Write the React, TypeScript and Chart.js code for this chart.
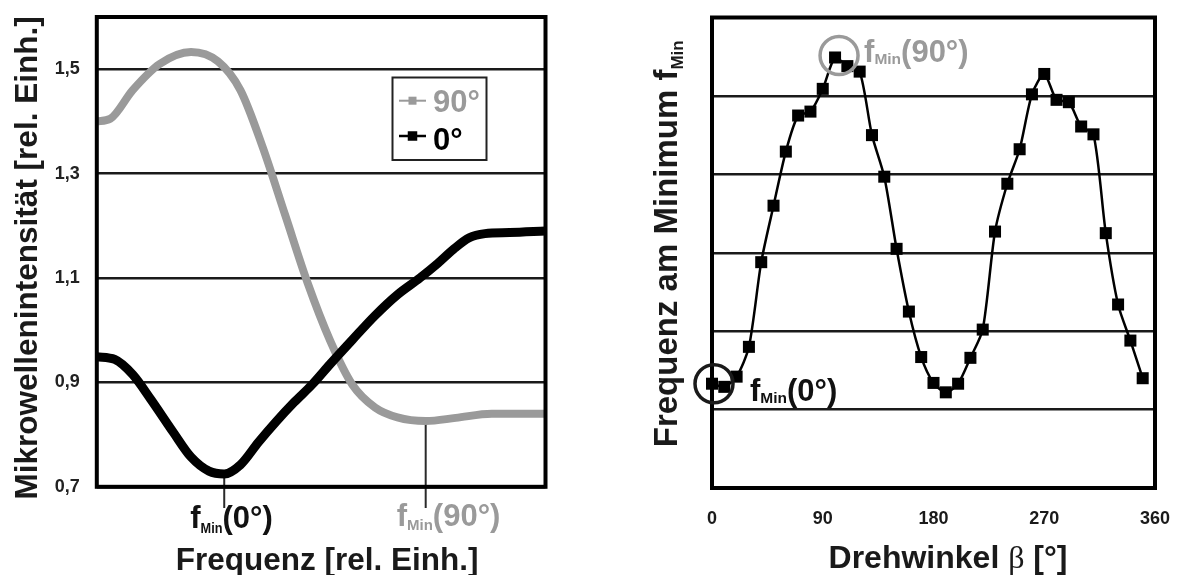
import React, { useEffect, useRef } from 'react';
import { Chart, registerables } from 'chart.js';

Chart.register(...registerables);

const FONT = '"Liberation Sans", Arial, Helvetica, sans-serif';
const SERIF = '"Liberation Serif", "DejaVu Serif", serif';
const GRAY = '#9a9a9a';

// ---------- left chart: microwave intensity vs. frequency ----------
const freq90 = [0, 3, 8, 14, 21, 27, 32, 37, 42, 47, 52, 57, 62, 67, 73.3, 80, 88, 100];
const intensity90 = [1.4, 1.405, 1.46, 1.51, 1.533, 1.515, 1.46, 1.35, 1.22, 1.09, 0.98, 0.895, 0.852, 0.833, 0.826, 0.832, 0.84, 0.84];
const freq0 = [0, 4, 8, 12, 17, 21, 25, 28.4, 32, 36, 40, 44, 48, 52, 57, 62, 67, 72, 76, 79.5, 83, 86.5, 92, 100];
const intensity0 = [0.949, 0.944, 0.915, 0.868, 0.805, 0.757, 0.73, 0.7245, 0.742, 0.785, 0.825, 0.862, 0.896, 0.935, 0.982, 1.028, 1.068, 1.1, 1.128, 1.155, 1.177, 1.185, 1.187, 1.19];
const leftYTicks = [0.7, 0.9, 1.1, 1.3, 1.5];
const seriesLabels = ['90°', '0°'];
const fMin0 = { x: 28.4, y: 0.7245 };
const fMin90 = { x: 73.3, y: 0.826 };

// ---------- right chart: frequency at minimum vs. rotation angle ----------
const angles = [0, 10, 20, 30, 40, 50, 60, 70, 80, 90, 100, 110, 120, 130, 140, 150, 160, 170, 180, 190, 200, 210, 220, 230, 240, 250, 260, 270, 280, 290, 300, 310, 320, 330, 340, 350];
const freqAtMin = [1.33, 1.29, 1.42, 1.8, 2.88, 3.6, 4.29, 4.75, 4.8, 5.09, 5.49, 5.38, 5.31, 4.5, 3.97, 3.05, 2.25, 1.67, 1.34, 1.22, 1.33, 1.66, 2.02, 3.27, 3.88, 4.32, 5.02, 5.28, 4.95, 4.92, 4.61, 4.51, 3.25, 2.34, 1.88, 1.4];
const angleTicks = [0, 90, 180, 270, 360];

type Seg = { t: string; font: string; color: string; dy?: number; sx?: number };

function drawRich(ctx: CanvasRenderingContext2D, segs: Seg[], x: number, y: number, align: 'left' | 'center', rot = 0) {
  ctx.save();
  ctx.translate(x, y);
  ctx.rotate(rot);
  ctx.textBaseline = 'alphabetic';
  ctx.textAlign = 'left';
  let total = 0;
  const widths = segs.map((s) => {
    ctx.font = s.font;
    const w = ctx.measureText(s.t).width * (s.sx ?? 1);
    total += w;
    return w;
  });
  let cx = align === 'center' ? -total / 2 : 0;
  segs.forEach((s, i) => {
    ctx.font = s.font;
    ctx.fillStyle = s.color;
    ctx.save();
    ctx.translate(cx, s.dy ?? 0);
    ctx.scale(s.sx ?? 1, 1);
    ctx.fillText(s.t, 0, 0);
    ctx.restore();
    cx += widths[i];
  });
  ctx.restore();
}

function frame(chart: any, lw: number) {
  const { ctx, chartArea: a } = chart;
  ctx.save();
  ctx.strokeStyle = '#000';
  ctx.lineWidth = lw;
  ctx.strokeRect(a.left, a.top, a.right - a.left, a.bottom - a.top);
  ctx.restore();
}

const bold = (px: number) => `bold ${px}px ${FONT}`;

const leftDecor = {
  id: 'leftDecor',
  beforeDatasetsDraw(chart: any) {
    const { ctx, scales } = chart;
    ctx.save();
    ctx.strokeStyle = '#2a2a2a';
    ctx.lineWidth = 2;
    [fMin0, fMin90].forEach((p) => {
      const x = scales.x.getPixelForValue(p.x);
      ctx.beginPath();
      ctx.moveTo(x, scales.y.getPixelForValue(p.y));
      ctx.lineTo(x, 508);
      ctx.stroke();
    });
    ctx.restore();
  },
  afterDatasetsDraw(chart: any) {
    frame(chart, 4);
  },
  afterDraw(chart: any) {
    const { ctx, scales, chartArea: a } = chart;
    // legend
    ctx.save();
    ctx.fillStyle = '#fff';
    ctx.fillRect(392.5, 77.5, 94, 82.5);
    ctx.strokeStyle = '#222';
    ctx.lineWidth = 2;
    ctx.strokeRect(392.5, 77.5, 94, 82.5);
    const ds = chart.data.datasets;
    const rows = [100.7, 136];
    const bases = [111.5, 149.5];
    ds.forEach((d: any, i: number) => {
      ctx.strokeStyle = d.borderColor;
      ctx.lineWidth = i === 0 ? 2 : 2.5;
      ctx.beginPath();
      ctx.moveTo(399, rows[i]);
      ctx.lineTo(426, rows[i]);
      ctx.stroke();
      ctx.fillStyle = d.borderColor;
      const s = i === 0 ? 8 : 9.5;
      ctx.fillRect(412.5 - s / 2, rows[i] - s / 2, s, s);
      drawRich(ctx, [{ t: d.label, font: bold(31), color: d.borderColor }], 433, bases[i], 'left');
    });
    ctx.restore();
    // fMin annotations
    const x0 = scales.x.getPixelForValue(fMin0.x);
    const x90 = scales.x.getPixelForValue(fMin90.x);
    drawRich(ctx, [
      { t: 'f', font: bold(31), color: '#111' },
      { t: 'Min', font: bold(15), color: '#111', dy: 5, sx: 0.85 },
      { t: '(0°)', font: bold(31), color: '#111' },
    ], x0 - 34, 528, 'left');
    drawRich(ctx, [
      { t: 'f', font: bold(31), color: GRAY },
      { t: 'Min', font: bold(15), color: GRAY, dy: 4 },
      { t: '(90°)', font: bold(31), color: GRAY },
    ], x90 - 29, 526, 'left');
    // axis titles
    const cx = (a.left + a.right) / 2;
    drawRich(ctx, [{ t: 'Frequenz [rel. Einh.]', font: bold(31.5), color: '#1a1a1a' }], cx + 6, 570, 'center');
    const cy = (a.top + a.bottom) / 2;
    drawRich(ctx, [{ t: 'Mikrowellenintensität [rel. Einh.]', font: bold(31.5), color: '#1a1a1a' }], 37, cy + 6, 'center', -Math.PI / 2);
  },
};

const rightDecor = {
  id: 'rightDecor',
  beforeDatasetsDraw(chart: any) {
    frame(chart, 4);
  },
  afterDraw(chart: any) {
    const { ctx, scales, chartArea: a } = chart;
    const px0 = scales.x.getPixelForValue(angles[0]);
    const py0 = scales.y.getPixelForValue(freqAtMin[0]);
    const px90 = scales.x.getPixelForValue(angles[10]);
    const py90 = scales.y.getPixelForValue(freqAtMin[10]);
    ctx.save();
    ctx.lineWidth = 3.5;
    ctx.strokeStyle = '#1a1a1a';
    ctx.beginPath();
    ctx.arc(px0 + 2, py0, 19, 0, Math.PI * 2);
    ctx.stroke();
    ctx.strokeStyle = GRAY;
    ctx.beginPath();
    ctx.arc(px90 + 4, py90 - 2, 19, 0, Math.PI * 2);
    ctx.stroke();
    ctx.restore();
    drawRich(ctx, [
      { t: 'f', font: bold(31), color: '#111' },
      { t: 'Min', font: bold(15.5), color: '#111', dy: 2 },
      { t: '(0°)', font: bold(31), color: '#111' },
    ], px0 + 38, py0 + 17, 'left');
    drawRich(ctx, [
      { t: 'f', font: bold(31), color: GRAY },
      { t: 'Min', font: bold(15.5), color: GRAY, dy: 2 },
      { t: '(90°)', font: bold(31), color: GRAY },
    ], px90 + 29, 62, 'left');
    // titles
    const cx = (a.left + a.right) / 2;
    drawRich(ctx, [
      { t: 'Drehwinkel ', font: bold(32), color: '#1a1a1a' },
      { t: 'β', font: `32px ${SERIF}`, color: '#1a1a1a' },
      { t: ' [°]', font: bold(32), color: '#1a1a1a' },
    ], cx + 14.5, 568, 'center');
    const cy = (a.top + a.bottom) / 2;
    drawRich(ctx, [
      { t: 'Frequenz am Minimum f', font: bold(33), color: '#1a1a1a' },
      { t: 'Min', font: bold(17), color: '#1a1a1a', dy: 6 },
    ], 77, cy - 9, 'center', -Math.PI / 2);
  },
};

function LeftChart() {
  const ref = useRef<HTMLCanvasElement>(null);
  useEffect(() => {
    const chart = new Chart(ref.current as HTMLCanvasElement, {
      type: 'line',
      data: {
        datasets: [
          {
            label: seriesLabels[0],
            data: freq90.map((x, i) => ({ x, y: intensity90[i] })),
            borderColor: GRAY,
            backgroundColor: GRAY,
            borderWidth: 8,
            pointRadius: 0,
            cubicInterpolationMode: 'monotone',
            borderCapStyle: 'round',
            borderJoinStyle: 'round',
            order: 2,
          },
          {
            label: seriesLabels[1],
            data: freq0.map((x, i) => ({ x, y: intensity0[i] })),
            borderColor: '#000000',
            backgroundColor: '#000000',
            borderWidth: 9,
            pointRadius: 0,
            cubicInterpolationMode: 'monotone',
            borderCapStyle: 'round',
            borderJoinStyle: 'round',
            order: 1,
          },
        ],
      } as any,
      options: {
        animation: false,
        responsive: false,
        maintainAspectRatio: false,
        layout: { padding: { left: 0, top: 17, right: 600 - 545.5, bottom: 575 - 486.8 } },
        plugins: { legend: { display: false }, tooltip: { enabled: false }, title: { display: false } },
        scales: {
          x: { type: 'linear', min: 0, max: 100, display: false },
          y: {
            type: 'linear',
            min: 0.7,
            max: 1.6,
            afterBuildTicks: (s: any) => {
              s.ticks = leftYTicks.map((v) => ({ value: v }));
            },
            afterFit: (s: any) => {
              s.width = 96.8;
              s.paddingTop = 0;
              s.paddingBottom = 0;
            },
            grid: { color: '#1a1a1a', lineWidth: 2.5, drawTicks: false },
            border: { display: false },
            ticks: {
              padding: 17,
              color: '#222',
              font: { family: FONT, size: 18, weight: 'bold' },
              callback: (v: any) => Number(v).toFixed(1).replace('.', ','),
            },
          },
        },
      } as any,
      plugins: [leftDecor],
    });
    return () => chart.destroy();
  }, []);
  return <canvas ref={ref} width={600} height={575} style={{ position: 'absolute', left: 0, top: 0 }} />;
}

function RightChart() {
  const ref = useRef<HTMLCanvasElement>(null);
  useEffect(() => {
    const chart = new Chart(ref.current as HTMLCanvasElement, {
      type: 'line',
      data: {
        datasets: [
          {
            label: 'fMin',
            data: angles.map((x, i) => ({ x, y: freqAtMin[i] })),
            borderColor: '#000',
            backgroundColor: '#000',
            borderWidth: 2.5,
            tension: 0.25,
            pointStyle: 'rect',
            pointRadius: 8.5,
            pointBorderWidth: 0,
            pointBackgroundColor: '#000',
            clip: false,
          },
        ],
      } as any,
      options: {
        animation: false,
        responsive: false,
        maintainAspectRatio: false,
        layout: { padding: { left: 0, top: 17.5, right: 581 - 555, bottom: 575 - 488 - 60 } },
        plugins: { legend: { display: false }, tooltip: { enabled: false }, title: { display: false } },
        scales: {
          x: {
            type: 'linear',
            min: 0,
            max: 360,
            afterBuildTicks: (s: any) => {
              s.ticks = angleTicks.map((v) => ({ value: v }));
            },
            afterFit: (s: any) => {
              s.height = 60;
              s.paddingLeft = 0;
              s.paddingRight = 0;
            },
            grid: { display: false, drawTicks: false },
            border: { display: false },
            ticks: {
              padding: 20,
              color: '#1a1a1a',
              maxRotation: 0,
              font: { family: FONT, size: 18, weight: 'bold' },
            },
          },
          y: {
            type: 'linear',
            min: 0,
            max: 6,
            ticks: { display: false, stepSize: 1 },
            afterFit: (s: any) => {
              s.width = 712 - 600;
              s.paddingTop = 0;
              s.paddingBottom = 0;
            },
            grid: { color: '#1a1a1a', lineWidth: 2.5, drawTicks: false },
            border: { display: false },
          },
        },
      } as any,
      plugins: [rightDecor],
    });
    return () => chart.destroy();
  }, []);
  return <canvas ref={ref} width={581} height={575} style={{ position: 'absolute', left: 600, top: 0 }} />;
}

export default function App() {
  return (
    <div style={{ position: 'fixed', left: 0, top: 0, width: 1181, height: 575, background: '#fff', overflow: 'hidden' }}>
      <LeftChart />
      <RightChart />
    </div>
  );
}
